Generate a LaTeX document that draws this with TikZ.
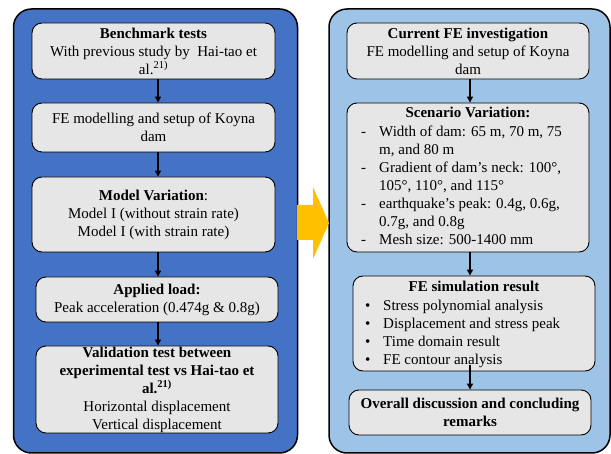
\documentclass[tikz,border=0pt]{standalone}
\usepackage{fontspec}
\setmainfont{Liberation Serif}
\usetikzlibrary{arrows.meta}
\definecolor{panelL}{HTML}{4472C4}
\definecolor{panelR}{HTML}{9DC3E6}
\definecolor{boxgray}{HTML}{E7E6E6}
\definecolor{arrowY}{HTML}{FFC000}
\begin{document}
\begin{tikzpicture}[x=1pt,y=-1pt,
  font=\fontsize{15}{18}\selectfont,
  panel/.style={draw=black, line width=1.5pt, rounded corners=18pt, inner sep=0pt},
  box/.style={draw=black, line width=0.9pt, fill=boxgray, rounded corners=10pt, inner sep=0pt, align=center},
  flow/.style={-{Triangle[length=6pt,width=6pt]}, line width=1.3pt},
  plain/.style={inner sep=0pt}]
\useasboundingbox (0,0) rectangle (611,454);
% panels
\node[panel, fill=panelL, minimum width=284pt, minimum height=444pt] (lp) at (155.5,231) {};
\node[panel, fill=panelR, minimum width=281pt, minimum height=444pt] (rp) at (469.5,231) {};
% yellow arrow
\fill[arrowY] (297,205) -- (313,205) -- (313,187) -- (329,223) -- (313,259) -- (313,240) -- (297,240) -- cycle;
% left boxes
\node[box, minimum width=243pt, minimum height=56pt] (b1) at (153.5,51)
  {\textbf{Benchmark tests}\\With previous study by\ \ Hai-tao et\\al.\textsuperscript{21)}};
\node[box, minimum width=243pt, minimum height=49pt] (b2) at (153.5,127.5)
  {FE modelling and setup of Koyna\\dam};
\node[box, minimum width=243pt, minimum height=75pt] (b3) at (153.5,214.5)
  {\textbf{Model Variation}:\\Model I (without strain rate)\\Model I (with strain rate)};
\node[box, minimum width=242pt, minimum height=45pt] (b4) at (157,299.5)
  {\textbf{Applied load:}\\Peak acceleration (0.474g \& 0.8g)};
\node[box, minimum width=242pt, minimum height=87pt] (b5) at (157,389.5)
  {\textbf{Validation test between}\\\textbf{experimental test vs Hai-tao et}\\\textbf{al.\textsuperscript{21)}}\\Horizontal displacement\\Vertical displacement};
% right boxes
\node[box, minimum width=242pt, minimum height=56pt] (r1) at (468,51)
  {\textbf{Current FE investigation}\\FE modelling and setup of Koyna\\dam};
\node[box, minimum width=242pt, minimum height=149pt] (r2) at (468,177.5) {};
\node[plain, anchor=base] (r2h) at (468,118) {\textbf{Scenario Variation:}};
\node[plain, anchor=north west] (r2l) at (361,123.4)
  {\begin{tabular}{@{}p{18pt}@{}l@{}}
  - & Width of dam: 65 m, 70 m, 75\\
    & m, and 80 m\\
  - & Gradient of dam's neck: 100°,\\
    & 105°, 110°, and 115°\\
  - & earthquake's peak: 0.4g, 0.6g,\\
    & 0.7g, and 0.8g\\
  - & Mesh size: 500-1400 mm
  \end{tabular}};
\node[box, minimum width=242pt, minimum height=95pt] (r3) at (474,323.5) {};
\node[plain, anchor=base] (r3h) at (474,292) {\textbf{FE simulation result}};
\node[plain, anchor=north west] (r3l) at (365,297.4)
  {\begin{tabular}{@{}p{18pt}@{}l@{}}
  \textbullet & Stress polynomial analysis\\
  \textbullet & Displacement and stress peak\\
  \textbullet & Time domain result\\
  \textbullet & FE contour analysis
  \end{tabular}};
\node[box, minimum width=242pt, minimum height=45pt] (r4) at (470,412.5)
  {\textbf{Overall discussion and concluding}\\\textbf{remarks}};
% arrow axes
\coordinate (axL) at (158,0);
\coordinate (axR) at (470,0);
\draw[flow] (b1.south -| axL) -- (b2.north -| axL);
\draw[flow] (b2.south -| axL) -- (b3.north -| axL);
\draw[flow] (b3.south -| axL) -- (b4.north -| axL);
\draw[flow] (b4.south -| axL) -- (b5.north -| axL);
\draw[flow] (r1.south -| axR) -- (r2.north -| axR);
\draw[flow] (r2.south -| axR) -- (r3.north -| axR);
\draw[flow] ([yshift=6pt]r3.south -| axR) -- (r4.north -| axR);
\end{tikzpicture}
\end{document}
